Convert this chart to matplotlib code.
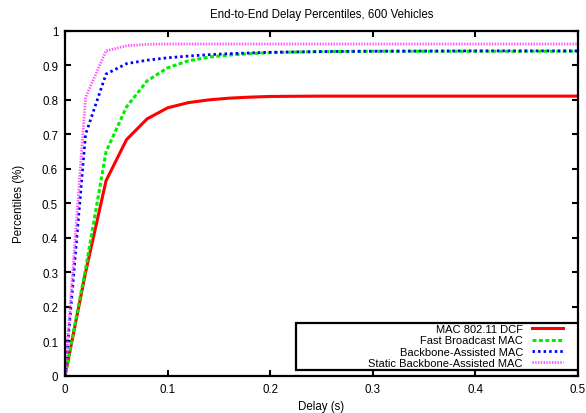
import numpy as np
import matplotlib.pyplot as plt
from matplotlib.patches import Rectangle

plt.rcParams['font.family'] = ['Liberation Sans', 'DejaVu Sans']

# delay (s) sample points and percentile values
delay = [0, 0.02, 0.04, 0.06, 0.08, 0.1, 0.12, 0.14, 0.16, 0.18, 0.2, 0.25, 0.3, 0.4, 0.5]
mac_dcf = [0, 0.30, 0.566, 0.685, 0.745, 0.777, 0.792, 0.800, 0.805, 0.808, 0.810, 0.811, 0.811, 0.811, 0.811]
fast_bcast = [0, 0.31, 0.65, 0.78, 0.855, 0.893, 0.913, 0.924, 0.930, 0.934, 0.937, 0.940, 0.941, 0.941, 0.941]
backbone = [0, 0.70, 0.875, 0.905, 0.915, 0.922, 0.927, 0.931, 0.934, 0.936, 0.938, 0.940, 0.941, 0.942, 0.942]
static_bb = [0, 0.807, 0.942, 0.957, 0.961, 0.962, 0.962, 0.962, 0.962, 0.962, 0.962, 0.962, 0.962, 0.962, 0.962]

labels = ["MAC 802.11 DCF", "Fast Broadcast MAC", "Backbone-Assisted MAC", "Static Backbone-Assisted MAC"]

fs = 8.3
fig = plt.figure(figsize=(5.86, 4.14), dpi=100)
ax = fig.add_axes([0.111, 0.0894, 0.875, 0.8336])

ax.plot(delay, mac_dcf, color='#ff0000', lw=2.2, ls='-', label=labels[0])
ax.plot(delay, fast_bcast, color='#00ee00', lw=2.2, ls=(0, (1.3, 0.8)), label=labels[1])
ax.plot(delay, backbone, color='#0000ff', lw=2.0, ls=(0, (0.9, 1.1)), label=labels[2])
ax.plot(delay, static_bb, color='#ff55ff', lw=2.0, ls=(0, (0.5, 0.5)), label=labels[3])

ax.set_xlim(0, 0.5)
ax.set_ylim(0, 1)
ax.set_xticks(np.arange(0, 0.51, 0.1))
ax.set_xticklabels(["0", "0.1", "0.2", "0.3", "0.4", "0.5"])
ax.set_yticks(np.arange(0, 1.01, 0.1))
ax.set_yticklabels(["0", "0.1", "0.2", "0.3", "0.4", "0.5", "0.6", "0.7", "0.8", "0.9", "1"])
ax.tick_params(direction='in', top=True, right=True, length=4, width=1.5, labelsize=fs, pad=5)
for s in ax.spines.values():
    s.set_linewidth(1.6)

ax.set_title("End-to-End Delay Percentiles, 600 Vehicles", fontsize=fs, pad=10)
ax.set_xlabel("Delay (s)", fontsize=fs, labelpad=4)
ax.set_ylabel("Percentiles (%)", fontsize=fs, labelpad=12)

# gnuplot style key: wide box, text right aligned, sample on the right
ax.add_patch(Rectangle((0.450, 0.0174), 0.55, 0.136, transform=ax.transAxes,
                       fill=True, facecolor='white', edgecolor='black', lw=1.6, zorder=4))
leg = ax.legend(loc='lower right', bbox_to_anchor=(0.971, 0.024), borderaxespad=0,
                markerfirst=False, fontsize=8.0, labelspacing=0.1, handlelength=2.8,
                handletextpad=0.8, borderpad=0, frameon=False)
leg.set_zorder(5)

fig.savefig("out.png", dpi=100)
